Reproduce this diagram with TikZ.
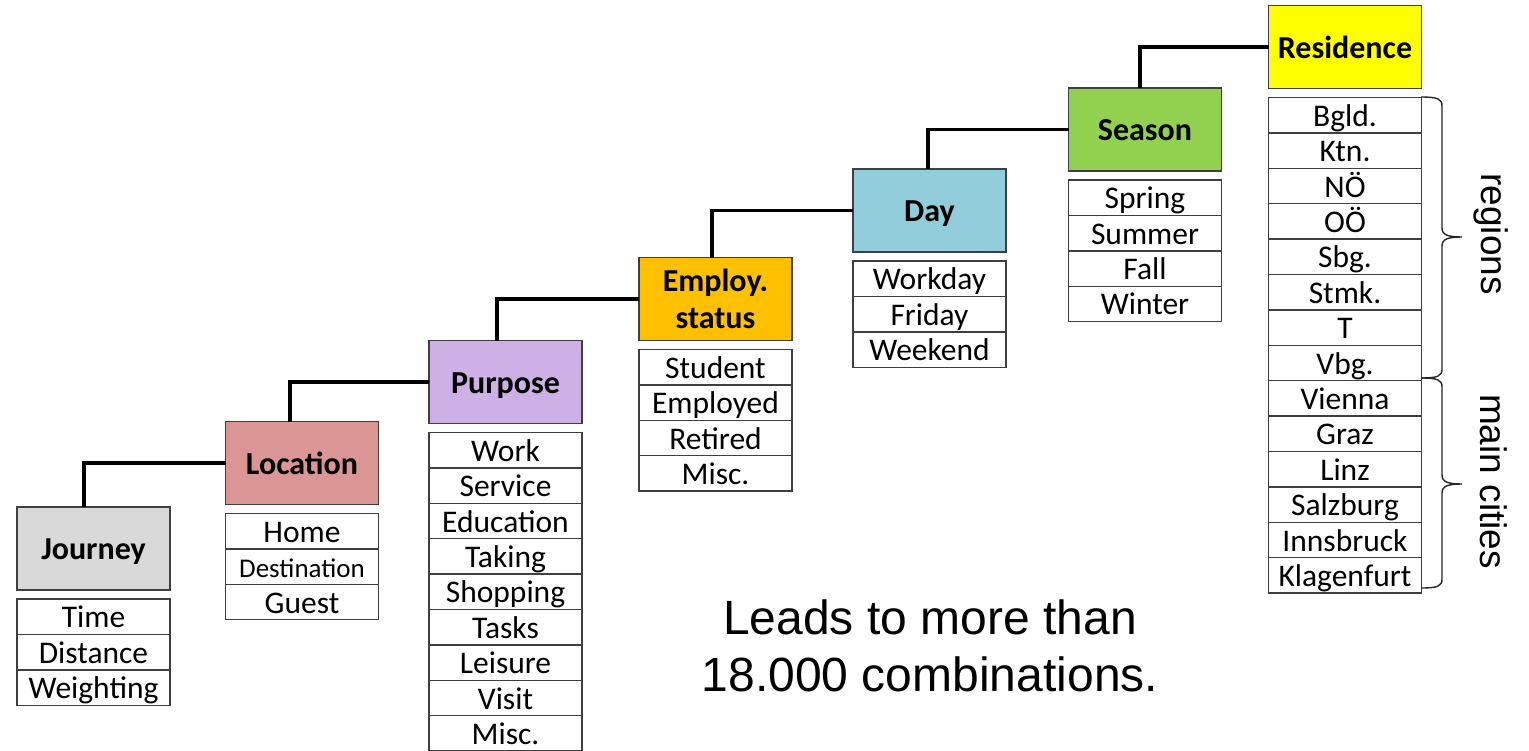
\documentclass[tikz,border=0pt]{standalone}
\usepackage{fontspec}
\setmainfont{Carlito}
\newfontfamily\arialfont{Liberation Sans}
\usetikzlibrary{positioning}

\definecolor{boxline}{HTML}{3F3F3F}
\definecolor{cjourney}{HTML}{D9D9D9}
\definecolor{clocation}{HTML}{DA9694}
\definecolor{cpurpose}{HTML}{CCB0E6}
\definecolor{cemploy}{HTML}{FFC000}
\definecolor{cday}{HTML}{92CDDC}
\definecolor{cseason}{HTML}{92D050}
\definecolor{cresidence}{HTML}{FFFF00}

\begin{document}
\begin{tikzpicture}[
	x=1pt, y=-1pt,
	node distance=9pt,
	cell/.style = {draw=boxline, line width=1.4pt, minimum width=153pt, minimum height=35.4pt,
		inner sep=0pt, outer sep=0pt, font=\fontsize{31.5}{37}\selectfont,
		text height=22pt, text depth=0pt},
	head/.style = {cell, minimum height=83pt, font=\bfseries\fontsize{32}{37}\selectfont, align=center},
	link/.style = {line width=3.5pt},
	curly/.style = {line width=1.4pt, draw=black!85},
	note/.style = {font=\arialfont\fontsize{37}{44}\selectfont, rotate=-90, anchor=base}
     ]
	\useasboundingbox (0,0) rectangle (1529,750);
%
	\node[head, fill=cjourney]   (journey)   at (93.5,548.5) {Journey};
	\node[head, fill=clocation]  (location)  at (302,463)    {Location};
	\node[head, fill=cpurpose]   (purpose)   at (505.5,382)  {Purpose};
	\node[head, fill=cemploy, text height={}, text depth={}]
	                             (employ)    at (715.5,299)  {Employ.\\status};
	\node[head, fill=cday]       (day)       at (929.5,210.5) {Day};
	\node[head, fill=cseason]    (season)    at (1145,129.5) {Season};
	\node[head, fill=cresidence] (residence) at (1345,47)    {Residence};
%
	\foreach \h/\items in {journey/{Time,Distance,Weighting},
			location/{Home,{\fontsize{27}{32}\selectfont Destination},Guest},
			purpose/{Work,Service,Education,Taking,Shopping,Tasks,Leisure,Visit,Misc.},
			employ/{Student,Employed,Retired,Misc.},
			day/{Workday,Friday,Weekend},
			season/{Spring,Summer,Fall,Winter},
			residence/{Bgld.,Ktn.,NÖ,OÖ,Sbg.,Stmk.,T,Vbg.,Vienna,Graz,Linz,Salzburg,Innsbruck,Klagenfurt}}
	{
		\coordinate[below=of \h] (\h-0);
		\foreach \t [count=\i, remember=\i as \j (initially 0)] in \items
			\node[cell, below=0pt of \h-\j] (\h-\i) {\t};
	}
%
	\foreach \a/\b/\s in {journey/location/-9.5pt, location/purpose/-12pt, purpose/employ/-8.5pt,
			employ/day/-3.5pt, day/season/-1.5pt, season/residence/-5pt}
		\draw[link] ([xshift=\s]\a.north) |- (\b.west);
%
	\draw[curly] (1421,97) .. controls (1438,97) and (1442,99) .. (1442,106)
		-- (1442,228) .. controls (1442,235) and (1448,237) .. (1462,237)
		.. controls (1448,237) and (1442,239) .. (1442,246)
		-- (1442,369) .. controls (1442,376) and (1438,378) .. (1421,378);
	\draw[curly] (1421,378) .. controls (1438,378) and (1442,380) .. (1442,387)
		-- (1442,475) .. controls (1442,482) and (1448,484) .. (1462,484)
		.. controls (1448,484) and (1442,486) .. (1442,493)
		-- (1442,579) .. controls (1442,586) and (1438,588) .. (1421,588);
	\node[note] (regions) at (1481,234) {regions};
	\node[note] (cities)  at (1480,481.5) {main cities};
%
	\node[font=\arialfont\fontsize{48}{57}\selectfont, align=center] (combos) at (930,646)
		{Leads to more than\\18.000 combinations.};
\end{tikzpicture}
\end{document}
